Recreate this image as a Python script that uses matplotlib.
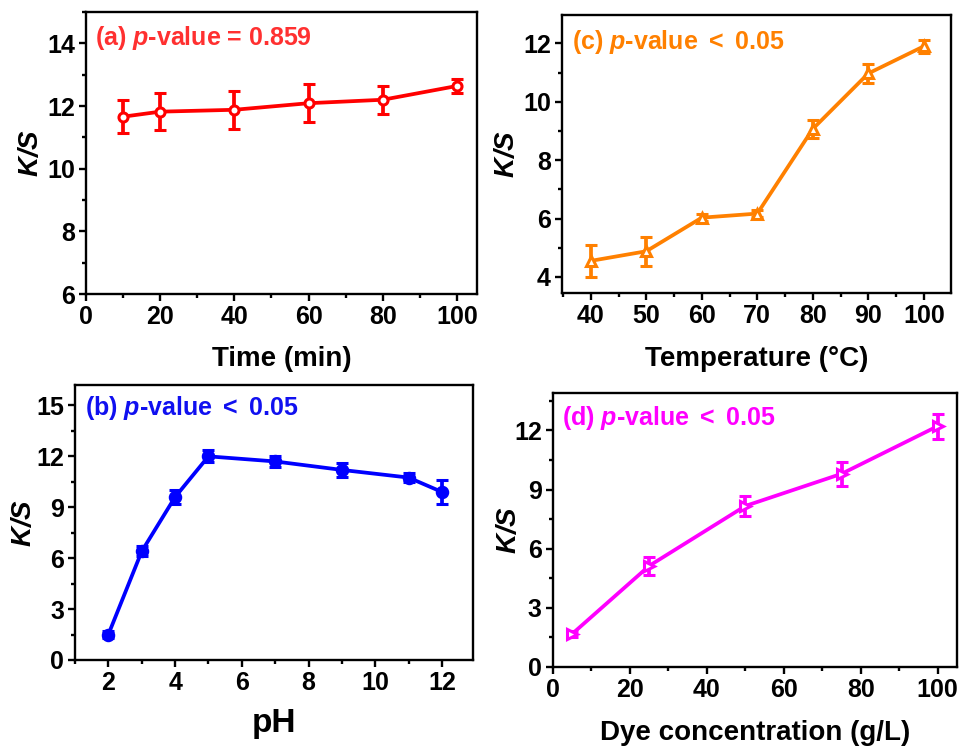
import matplotlib
matplotlib.use("Agg")
import matplotlib.pyplot as plt
from matplotlib.ticker import MultipleLocator

plt.rcParams['font.family'] = ['Liberation Sans', 'DejaVu Sans']
plt.rcParams['font.weight'] = 'bold'
plt.rcParams['mathtext.fontset'] = 'custom'
plt.rcParams['mathtext.rm'] = 'Liberation Sans'
plt.rcParams['mathtext.bfit'] = 'Liberation Sans:italic:bold'
plt.rcParams['mathtext.it'] = 'Liberation Sans:italic'
plt.rcParams['mathtext.bf'] = 'Liberation Sans:bold'

# (a) Time
time_x = [10, 20, 40, 60, 80, 100]
time_y = [11.66, 11.82, 11.88, 12.09, 12.2, 12.64]
time_err = [0.53, 0.58, 0.6, 0.6, 0.45, 0.22]

# (b) pH
ph_x = [2, 3, 4, 5, 7, 9, 11, 12]
ph_y = [1.5, 6.4, 9.6, 12.0, 11.7, 11.2, 10.75, 9.9]
ph_err = [0.2, 0.3, 0.4, 0.35, 0.3, 0.4, 0.25, 0.7]

# (c) Temperature
temp_x = [40, 50, 60, 70, 80, 90, 100]
temp_y = [4.55, 4.88, 6.03, 6.17, 9.07, 10.97, 11.9]
temp_err = [0.55, 0.5, 0.12, 0.12, 0.32, 0.32, 0.23]

# (d) Dye concentration
dye_x = [5, 25, 50, 75, 100]
dye_y = [1.68, 5.13, 8.17, 9.8, 12.22]
dye_err = [0.15, 0.46, 0.5, 0.6, 0.63]

fig = plt.figure(figsize=(9.59, 7.47), dpi=100)

axA = fig.add_axes([0.0897, 0.6064, 0.4077, 0.3775])
axC = fig.add_axes([0.586, 0.6078, 0.4056, 0.372])
axB = fig.add_axes([0.0782, 0.1165, 0.415, 0.368])
axD = fig.add_axes([0.5766, 0.1071, 0.4213, 0.3668])

def style(ax, xlim, ylim, xmaj, xmin, ymaj, ymin, ylpad=4):
    ax.set_xlim(*xlim)
    ax.set_ylim(*ylim)
    ax.xaxis.set_major_locator(MultipleLocator(xmaj))
    ax.xaxis.set_minor_locator(MultipleLocator(xmin))
    ax.yaxis.set_major_locator(MultipleLocator(ymaj))
    ax.yaxis.set_minor_locator(MultipleLocator(ymin))
    for s in ax.spines.values():
        s.set_linewidth(1.7)
    ax.tick_params(which='major', direction='out', length=5, width=1.7,
                   labelsize=18, pad=3)
    ax.tick_params(which='minor', direction='out', length=3, width=1.7)
    for lab in ax.get_xticklabels() + ax.get_yticklabels():
        lab.set_fontweight('bold')
    ax.set_ylabel(r'$\mathbfit{K/S}$', fontsize=20, labelpad=ylpad)

def plot(ax, x, y, e, color, marker, ms, filled):
    ax.errorbar(x, y, yerr=e, color=color, lw=2.7, elinewidth=2.7,
                capsize=4.5, capthick=2.7, marker=marker, ms=ms,
                mfc=color if filled else 'white', mec=color, mew=2.2)

ann = dict(fontsize=18, fontweight='bold', va='center')

plot(axA, time_x, time_y, time_err, '#FF0000', 'o', 6.5, False)
style(axA, (0, 105.4), (6, 15), 20, 10, 2, 1, ylpad=2)
axA.set_xlabel('Time (min)', fontsize=20, fontweight='bold', labelpad=12)
axA.text(0.023, 0.908, r'(a) $\mathbfit{p}$-value = 0.859', transform=axA.transAxes,
         color='#FF3030', **ann)

plot(axC, temp_x, temp_y, temp_err, '#FF8000', '^', 7.5, False)
style(axC, (34.8, 104.9), (3.45, 12.97), 10, 5, 2, 1, ylpad=2)
axC.set_xlabel('Temperature (°C)', fontsize=20, fontweight='bold', labelpad=13)
axC.text(0.026, 0.903, r'(c) $\mathbfit{p}$-value ${<}$ 0.05', transform=axC.transAxes,
         color='#FF8000', **ann)

plot(axB, ph_x, ph_y, ph_err, '#0000FF', 'o', 7.5, True)
style(axB, (1.0, 12.93), (0, 16.2), 2, 1, 3, 1.5, ylpad=-1)
axB.set_xlabel('pH', fontsize=24, fontweight='bold', labelpad=9)
axB.text(0.025, 0.916, r'(b) $\mathbfit{p}$-value ${<}$ 0.05', transform=axB.transAxes,
         color='#1010F0', **ann)

plot(axD, dye_x, dye_y, dye_err, '#FF00FF', '>', 7.5, False)
style(axD, (0, 105), (0, 13.9), 20, 10, 3, 1.5, ylpad=-6)
axD.set_xlabel('Dye concentration (g/L)', fontsize=20, fontweight='bold', labelpad=13)
axD.text(0.022, 0.909, r'(d) $\mathbfit{p}$-value ${<}$ 0.05', transform=axD.transAxes,
         color='#FF00FF', **ann)

fig.savefig('out.png', dpi=100)
